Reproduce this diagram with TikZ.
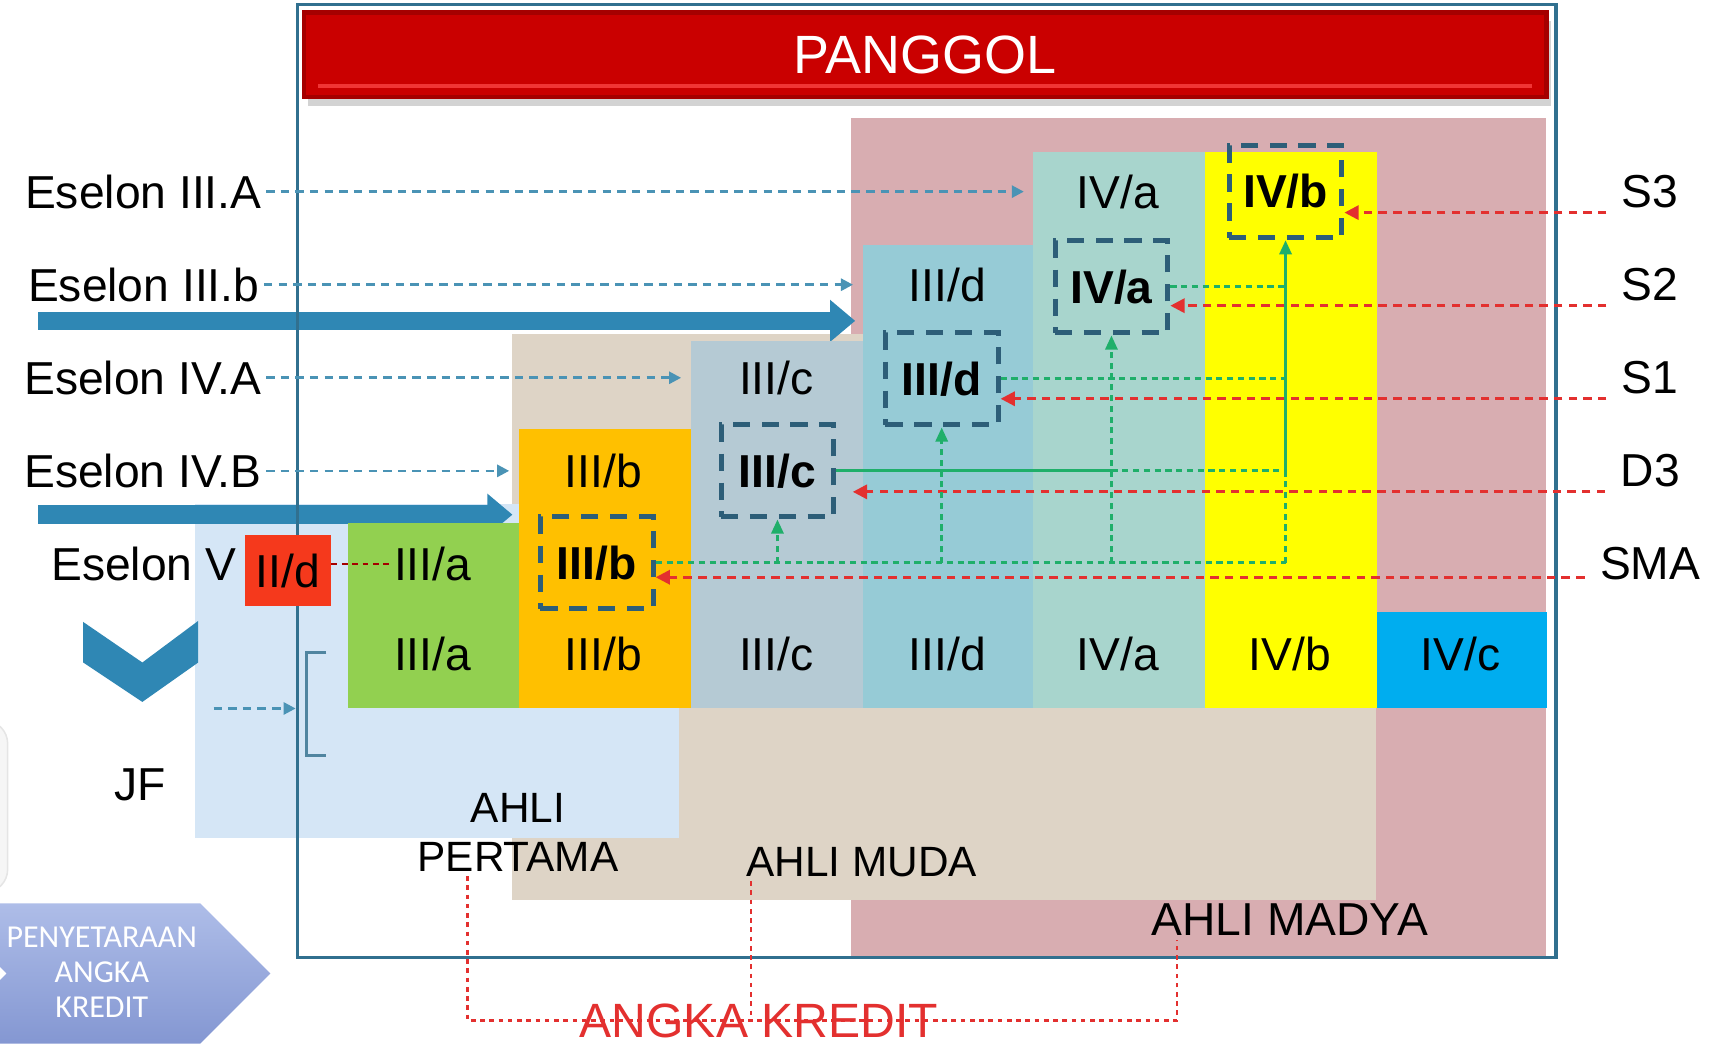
\documentclass[tikz,border=0pt]{standalone}
\usepackage{fontspec}
\setmainfont{Liberation Sans}
\newfontfamily\calibrifont{Carlito}
\usetikzlibrary{arrows.meta,shadows}

\definecolor{frameblue}{HTML}{31708F}
\definecolor{bannerred}{HTML}{CA0000}
\definecolor{bannerdark}{HTML}{A50000}
\definecolor{bannerhi}{HTML}{F03535}
\definecolor{madyapink}{HTML}{D8ADB1}
\definecolor{mudabeige}{HTML}{DED4C6}
\definecolor{pertamablue}{HTML}{D5E6F6}
\definecolor{colIIIa}{HTML}{92D050}
\definecolor{colIIIb}{HTML}{FFC000}
\definecolor{colIIIc}{HTML}{B5CAD4}
\definecolor{colIIId}{HTML}{96CBD6}
\definecolor{colIVa}{HTML}{A8D5CD}
\definecolor{colIVb}{HTML}{FFFF00}
\definecolor{colIVc}{HTML}{00ADEF}
\definecolor{colIId}{HTML}{F5391C}
\definecolor{arrowblue}{HTML}{2F87B4}
\definecolor{boxblue}{HTML}{2D5E78}
\definecolor{dashblue}{HTML}{4A93B5}
\definecolor{dashred}{HTML}{E3302F}
\definecolor{careergreen}{HTML}{1FAF6A}
\definecolor{penlight}{HTML}{AEBDE8}
\definecolor{pendark}{HTML}{8497D2}

\begin{document}
\begin{tikzpicture}[x=0.01cm,y=-0.01cm,
  every node/.style={font=\fontsize{12}{14}\selectfont,inner sep=1pt},
  column/.style={anchor=south west,minimum width=1.57cm,inner sep=0pt},
  gradebox/.style={draw=boxblue,line width=1.3pt,dash pattern=on 4.5pt off 3pt,minimum width=1.03cm,minimum height=0.84cm,font=\fontsize{12}{14}\selectfont\bfseries},
  banner/.style={fill=bannerred,draw=bannerdark,line width=1.2pt,minimum width=11.34cm,minimum height=0.77cm,text=white,font=\fontsize{14}{16}\selectfont,drop shadow={shadow xshift=0.4mm,shadow yshift=-0.8mm,opacity=0.35}},
  eselon/.style={draw=dashblue,line width=0.7pt,dash pattern=on 2.2pt off 1.6pt,shorten >=0.8mm,-{Triangle[length=1.1mm,width=1.1mm]}},
  ijazah/.style={draw=dashred,line width=0.7pt,dash pattern=on 2.2pt off 1.6pt,-{Triangle[length=1.3mm,width=1.3mm]}},
  karier/.style={draw=careergreen,line width=0.8pt,dash pattern=on 1.6pt off 1.2pt},
  karierarrow/.style={karier,-{Triangle[length=1.3mm,width=1.1mm]}},
  kredit/.style={draw=dashred,line width=0.6pt,dash pattern=on 1.2pt off 1.2pt},
  bigarrow/.style={draw=arrowblue,line width=4.8pt,-{Triangle[length=2.3mm,width=3.7mm]}}]

\useasboundingbox (0,0) rectangle (1568,954);

\filldraw[fill=gray!7,draw=gray!20,rounded corners=6] (-40,658) rectangle (7,815);
\fill[madyapink] (777,108) rectangle (1412,873);
\fill[mudabeige] (468,305) rectangle (1257,822);
\fill[pertamablue] (178,460) rectangle (620,765);

\coordinate (ta1) at (35,293);
\coordinate (ta2) at (781,293);
\coordinate (tb1) at (35,470);
\coordinate (tb2) at (468,470);
\draw[bigarrow] (ta1) -- (ta2);
\draw[bigarrow] (tb1) -- (tb2);

\draw[frameblue,line width=0.8pt] (272,4) rectangle (1421,874);

\node[banner] (panggol) at (845,50) {PANGGOL};
\draw[bannerhi,line width=1.2pt] ([shift={(1.5mm,1.2mm)}]panggol.south west) -- ([shift={(-1.5mm,1.2mm)}]panggol.south east);

\node[column,fill=colIIIa,minimum height=1.69cm] (cIIIa) at (317,647) {};
\node[column,fill=colIIIb,minimum height=2.54cm] (cIIIb) at (473,647) {};
\node[column,fill=colIIIc,minimum height=3.35cm] (cIIIc) at (630,647) {};
\node[column,fill=colIIId,minimum height=4.22cm] (cIIId) at (787,647) {};
\node[column,fill=colIVa,minimum height=5.07cm] (cIVa) at (943,647) {};
\node[column,fill=colIVb,minimum height=5.07cm] (cIVb) at (1100,647) {};
\node[column,fill=colIVc,minimum height=0.87cm,minimum width=1.55cm] (cIVc) at (1257,647) {};

\node (gIIIa) at (395,597) {III/a};
\node (gIIIb) at (551,597) {III/b};
\node (gIIIc) at (709,597) {III/c};
\node (gIIId) at (865,597) {III/d};
\node (gIVa) at (1021,597) {IV/a};
\node (gIVb) at (1178,597) {IV/b};
\node (gIVc) at (1334,597) {IV/c};

\node (uIIIa) at (395,515) {III/a};
\node (uIIIb) at (551,430) {III/b};
\node (uIIIc) at (709,345) {III/c};
\node (uIIId) at (865,260) {III/d};
\node (uIVa) at (1021,175) {IV/a};

\node[gradebox] (bIIIb) at (545,514) {III/b};
\node[gradebox] (bIIIc) at (710,430) {III/c};
\node[gradebox] (bIIId) at (860,346) {III/d};
\node[gradebox] (bIVa) at (1015,262) {IV/a};
\node[gradebox] (bIVb) at (1174,175) {IV/b};

\node[fill=colIId,minimum width=0.78cm,minimum height=0.65cm,inner sep=0pt] (iid) at (263,521) {II/d};

\node[anchor=east] (eIIIA) at (243,175) {Eselon III.A};
\node[anchor=east] (eIIIb) at (241,260) {Eselon III.b};
\node[anchor=east] (eIVA) at (243,345) {Eselon IV.A};
\node[anchor=east] (eIVB) at (243,430) {Eselon IV.B};
\node[anchor=east] (eV) at (220,515) {Eselon V};

\node (sS3) at (1507,175) {S3};
\node (sS2) at (1507,260) {S2};
\node (sS1) at (1507,345) {S1};
\node (sD3) at (1507,430) {D3};
\node (sSMA) at (1507,515) {SMA};

\draw[eselon] (eIIIA.east) -- (eIIIA.east -| cIVa.west);
\draw[eselon] (eIIIb.east) -- (eIIIb.east -| cIIId.west);
\draw[eselon] (eIVA.east) -- (eIVA.east -| cIIIc.west);
\draw[eselon] (eIVB.east) -- (eIVB.east -| cIIIb.west);
\draw[draw=bannerdark,line width=0.6pt,dash pattern=on 1.5pt off 1.2pt] (iid.east |- uIIIa.west) -- (uIIIa.west);

\draw[ijazah] ([xshift=-1mm]sS3.south west) -- (sS3.south west -| bIVb.east);
\draw[ijazah] ([xshift=-1mm]sS2.south west) -- (sS2.south west -| bIVa.east);
\draw[ijazah] ([xshift=-1mm]sS1.south west) -- (sS1.south west -| bIIId.east);
\draw[ijazah] ([xshift=-1mm]sD3.south west) -- ([xshift=1.5mm]sD3.south west -| bIIIc.east);
\draw[ijazah] ([shift={(-1mm,0.7mm)}]sSMA.south west) -- ([yshift=0.7mm]sSMA.south west -| bIIIb.east);

\draw[karier] (bIIIb.east) -- (bIIIb.east -| bIVb.south);
\draw[karierarrow] (bIIIc.south |- bIIIb.east) -- (bIIIc.south);
\draw[karierarrow] (bIIId.south |- bIIIb.east) -- (bIIId.south);
\draw[karierarrow] (bIVa.south |- bIIIb.east) -- (bIVa.south);
\draw[karier] (bIVb.south |- bIIIb.east) -- (bIVb.south |- bIIIc.east);
\draw[karierarrow,solid] (bIVb.south |- bIIIc.east) -- (bIVb.south);
\draw[karier,solid] (bIIIc.east) -- (bIIIc.east -| bIVa.south);
\draw[karier] (bIIIc.east -| bIVa.south) -- (bIIIc.east -| bIVb.south);
\draw[karier] (bIIId.east) -- (bIIId.east -| bIVb.south);
\draw[karier] (bIVa.east) -- (bIVa.east -| bIVb.south);

\fill[arrowblue] (76,568) -- (130,605) -- (181,567) -- (181,605) -- (130,641) -- (76,605) -- cycle;
\coordinate (jf1) at (195,647);
\coordinate (jf2) at (270,647);
\draw[eselon,shorten >=0pt] (jf1) -- (jf2);
\draw[frameblue!85,line width=0.6pt] (298,596) -- (280,596) -- (280,690) -- (298,690);
\node (jf) at (128,717) {JF};

\node[align=center,font=\fontsize{11}{12.8}\selectfont] (tPertama) at (473,760) {AHLI\\PERTAMA};
\node[font=\fontsize{11}{13}\selectfont] (tMuda) at (787,787) {AHLI MUDA};
\node (tMadya) at (1178,840) {AHLI MADYA};
\coordinate (akmid) at (693,932);
\draw[kredit] ([xshift=-4.6mm]tPertama.south) -- ([xshift=-4.6mm]tPertama.south |- akmid) -- ([xshift=-1.03cm]tMadya.south |- akmid) -- ([xshift=-1.03cm]tMadya.south);
\draw[kredit] ([xshift=-1.01cm]tMuda.south) -- ([xshift=-1.01cm]tMuda.south |- akmid);
\node[text=dashred,font=\fontsize{12.5}{14}\selectfont] (tAK) at (akmid) {ANGKA KREDIT};

\shade[top color=penlight,bottom color=pendark] (-58,825) -- (183,825) -- (247,889) -- (183,953) -- (-58,953) -- (6,889) -- cycle;
\node[text=white,align=center,font=\calibrifont\fontsize{8.3}{9.1}\selectfont] (penyetaraan) at (93,888) {PENYETARAAN\\ANGKA\\KREDIT};
\end{tikzpicture}
\end{document}
